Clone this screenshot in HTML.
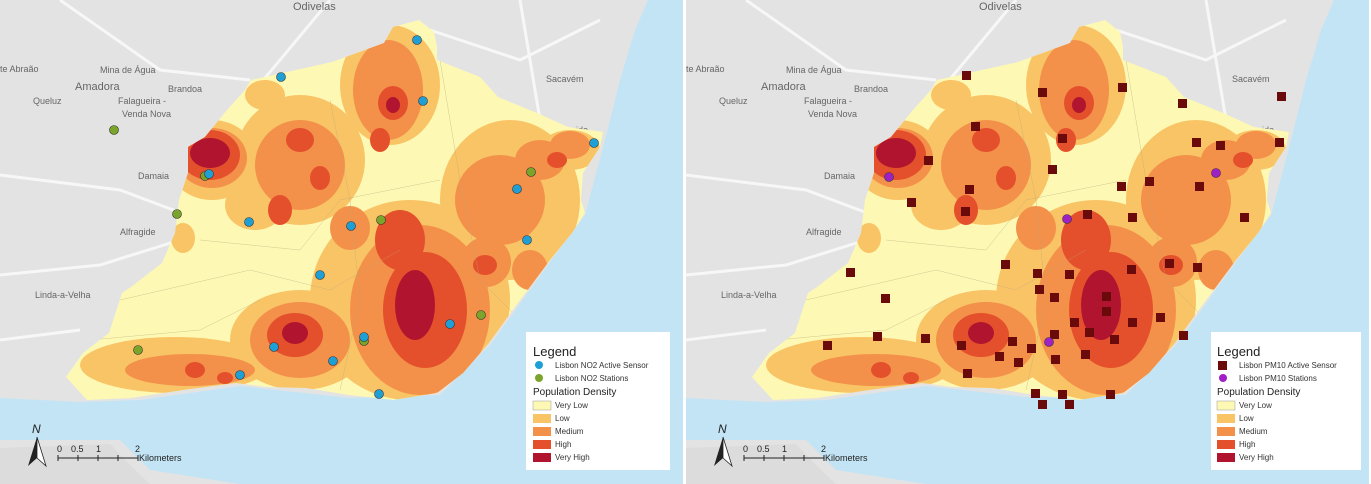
<!DOCTYPE html>
<html><head><meta charset="utf-8"><style>
html,body{margin:0;padding:0;background:#fff}
svg{display:block}
text{font-family:"Liberation Sans",sans-serif}
</style></head><body>
<svg width="1371" height="484" viewBox="0 0 1371 484" xmlns="http://www.w3.org/2000/svg">
<defs>
<clipPath id="pc"><rect x="0" y="0" width="683" height="484"/></clipPath>
<clipPath id="cityclip"><polygon points="251,80 332,62 384,43 393,27 419,20 434,32 437,47 437,60 480,77 498,97 537,113 568,127 603,132 600,147 583,173 581,200 585,213 572,233 550,260 533,283 515,307 489,343 463,373 437,393 393,400 349,395 306,388 266,387 236,383 183,390 131,398 87,400 66,377 83,353 109,333 122,293 131,287 162,263 175,233 179,200 188,173 188,147 205,137 227,110 245,90"/></clipPath>
<g id="base" clip-path="url(#pc)">
  <rect x="0" y="0" width="683" height="484" fill="#e3e3e3"/>
  <g stroke="#f7f7f7" stroke-width="3" fill="none">
    <path d="M0,175 L120,190 L200,220"/>
    <path d="M60,0 L160,70 L250,80"/>
    <path d="M0,275 L100,265 L180,240"/>
    <path d="M430,30 L520,60 L600,20"/>
    <path d="M520,0 L540,120"/>
    <path d="M0,340 L80,330"/>
    <path d="M230,120 L330,0"/>
  </g>
  <g fill="#666" font-size="9">
    <text x="0" y="72">te Abraão</text><text x="100" y="73">Mina de Água</text>
    <text x="75" y="90" font-size="11">Amadora</text><text x="168" y="92">Brandoa</text>
    <text x="33" y="104">Queluz</text><text x="118" y="104">Falagueira -</text><text x="122" y="117">Venda Nova</text>
    <text x="138" y="179">Damaia</text><text x="120" y="235">Alfragide</text><text x="35" y="298">Linda-a-Velha</text>
    <text x="293" y="10" font-size="11">Odivelas</text><text x="546" y="82">Sacavém</text><text x="545" y="133">Moscavide</text>
    <text x="0" y="477">rafaria</text>
  </g>
  <path d="M648,0 L683,0 L683,484 L240,484 L150,470 L120,440 L0,440 L0,398 L80,402 L140,400 L240,386 L350,398 L440,395 L490,345 L550,262 L585,215 L605,140 L620,80 L635,30 Z" fill="#c3e4f5"/>
  <path d="M0,448 L110,444 L135,470 L150,484 L0,484 Z" fill="#dcdcdc"/>
  <polygon fill="#fdf9b4" points="251,80 332,62 384,43 393,27 419,20 434,32 437,47 437,60 480,77 498,97 537,113 568,127 603,132 600,147 583,173 581,200 585,213 572,233 550,260 533,283 515,307 489,343 463,373 437,393 393,400 349,395 306,388 266,387 236,383 183,390 131,398 87,400 66,377 83,353 109,333 122,293 131,287 162,263 175,233 179,200 188,173 188,147 205,137 227,110 245,90"/>
  <g clip-path="url(#cityclip)">
  <g fill="#f9c466">
    <ellipse cx="410" cy="300" rx="100" ry="100"/>
    <ellipse cx="300" cy="340" rx="70" ry="50"/>
    <ellipse cx="175" cy="365" rx="95" ry="28"/>
    <ellipse cx="510" cy="200" rx="70" ry="80"/>
    <ellipse cx="300" cy="160" rx="65" ry="65"/>
    <ellipse cx="390" cy="85" rx="50" ry="60"/>
    <ellipse cx="212" cy="160" rx="45" ry="40"/>
    <ellipse cx="265" cy="95" rx="20" ry="15"/>
    <ellipse cx="570" cy="150" rx="30" ry="20"/>
    <ellipse cx="183" cy="238" rx="12" ry="15"/>
    <ellipse cx="255" cy="205" rx="30" ry="25"/>
  </g>
  <g fill="#f3914a">
    <ellipse cx="420" cy="310" rx="70" ry="85"/>
    <ellipse cx="300" cy="340" rx="50" ry="38"/>
    <ellipse cx="190" cy="370" rx="65" ry="16"/>
    <ellipse cx="500" cy="200" rx="45" ry="45"/>
    <ellipse cx="540" cy="160" rx="25" ry="20"/>
    <ellipse cx="300" cy="165" rx="45" ry="45"/>
    <ellipse cx="388" cy="90" rx="35" ry="50"/>
    <ellipse cx="212" cy="158" rx="35" ry="30"/>
    <ellipse cx="486" cy="262" rx="25" ry="25"/>
    <ellipse cx="350" cy="228" rx="20" ry="22"/>
    <ellipse cx="570" cy="145" rx="20" ry="14"/>
    <ellipse cx="530" cy="270" rx="18" ry="20"/>
  </g>
  <g fill="#e5502c">
    <ellipse cx="425" cy="310" rx="42" ry="58"/>
    <ellipse cx="400" cy="240" rx="25" ry="30"/>
    <ellipse cx="295" cy="335" rx="28" ry="22"/>
    <ellipse cx="210" cy="155" rx="30" ry="25"/>
    <ellipse cx="393" cy="103" rx="15" ry="17"/>
    <ellipse cx="380" cy="140" rx="10" ry="12"/>
    <ellipse cx="300" cy="140" rx="14" ry="12"/>
    <ellipse cx="320" cy="178" rx="10" ry="12"/>
    <ellipse cx="280" cy="210" rx="12" ry="15"/>
    <ellipse cx="485" cy="265" rx="12" ry="10"/>
    <ellipse cx="557" cy="160" rx="10" ry="8"/>
    <ellipse cx="195" cy="370" rx="10" ry="8"/>
    <ellipse cx="225" cy="378" rx="8" ry="6"/>
  </g>
  <g fill="#b1142e">
    <ellipse cx="415" cy="305" rx="20" ry="35"/>
    <ellipse cx="210" cy="153" rx="20" ry="15"/>
    <ellipse cx="295" cy="333" rx="13" ry="11"/>
    <ellipse cx="393" cy="105" rx="7" ry="8"/>
  </g>
  <g stroke="#b9a77a" stroke-width="0.5" fill="none" opacity="0.6">
    <path d="M120,300 L250,270 L330,290 L400,250"/>
    <path d="M200,240 L300,250 L340,200 L440,180"/>
    <path d="M330,100 L350,200 L360,300 L340,390"/>
    <path d="M440,60 L460,180 L480,280 L520,320"/>
    <path d="M90,340 L200,330 L260,300"/>
  </g>
  </g>
  <g fill="#222" font-size="9">
    <text x="57" y="452">0</text><text x="71" y="452">0.5</text><text x="96" y="452">1</text><text x="135" y="452">2</text>
    <path d="M58,458 L138,458 M58,455 L58,461 M78,455 L78,461 M98,455 L98,461 M118,455 L118,461 M138,455 L138,461" stroke="#222" stroke-width="1"/>
    <text x="139" y="461">Kilometers</text>
    <text x="32" y="433" font-size="12" font-style="italic">N</text>
    <path d="M37,437 L28,466 L37,458 Z" fill="#222"/><path d="M37,437 L46,466 L37,458 Z" fill="#fff" stroke="#222" stroke-width="0.8"/>
  </g>
</g>
</defs>

<use href="#base"/>
<use href="#base" transform="translate(686,0)"/>
<rect x="683" y="0" width="3" height="484" fill="#fff"/>

<g fill="#7aa52a" stroke="#333" stroke-width="0.6">
  <circle cx="114" cy="130" r="4.5"/><circle cx="205" cy="176" r="4.5"/><circle cx="177" cy="214" r="4.5"/>
  <circle cx="381" cy="220" r="4.5"/><circle cx="531" cy="172" r="4.5"/><circle cx="481" cy="315" r="4.5"/>
  <circle cx="364" cy="341" r="4.5"/><circle cx="138" cy="350" r="4.5"/>
</g>
<g fill="#1ea0d6" stroke="#333" stroke-width="0.6">
  <circle cx="417" cy="40" r="4.5"/><circle cx="281" cy="77" r="4.5"/><circle cx="423" cy="101" r="4.5"/>
  <circle cx="594" cy="143" r="4.5"/><circle cx="209" cy="174" r="4.5"/><circle cx="517" cy="189" r="4.5"/>
  <circle cx="249" cy="222" r="4.5"/><circle cx="351" cy="226" r="4.5"/><circle cx="527" cy="240" r="4.5"/>
  <circle cx="320" cy="275" r="4.5"/><circle cx="450" cy="324" r="4.5"/><circle cx="364" cy="337" r="4.5"/>
  <circle cx="274" cy="347" r="4.5"/><circle cx="333" cy="361" r="4.5"/><circle cx="240" cy="375" r="4.5"/>
  <circle cx="379" cy="394" r="4.5"/>
</g>

<g fill="#6a0a0a">
  <rect x="962" y="71" width="9" height="9"/><rect x="1038" y="88" width="9" height="9"/><rect x="1118" y="83" width="9" height="9"/>
  <rect x="1178" y="99" width="9" height="9"/><rect x="1277" y="92" width="9" height="9"/><rect x="971" y="122" width="9" height="9"/>
  <rect x="1058" y="134" width="9" height="9"/><rect x="1192" y="138" width="9" height="9"/><rect x="1216" y="141" width="9" height="9"/>
  <rect x="1275" y="138" width="9" height="9"/><rect x="924" y="156" width="9" height="9"/><rect x="1048" y="165" width="9" height="9"/>
  <rect x="965" y="185" width="9" height="9"/><rect x="1117" y="182" width="9" height="9"/><rect x="1145" y="177" width="9" height="9"/>
  <rect x="1195" y="182" width="9" height="9"/><rect x="1083" y="210" width="9" height="9"/><rect x="907" y="198" width="9" height="9"/>
  <rect x="961" y="207" width="9" height="9"/><rect x="1128" y="213" width="9" height="9"/><rect x="1240" y="213" width="9" height="9"/>
  <rect x="846" y="268" width="9" height="9"/><rect x="1165" y="259" width="9" height="9"/><rect x="1193" y="263" width="9" height="9"/>
  <rect x="1001" y="260" width="9" height="9"/><rect x="1033" y="269" width="9" height="9"/><rect x="1065" y="270" width="9" height="9"/>
  <rect x="1127" y="265" width="9" height="9"/><rect x="1035" y="285" width="9" height="9"/><rect x="1050" y="293" width="9" height="9"/>
  <rect x="1102" y="292" width="9" height="9"/><rect x="881" y="294" width="9" height="9"/><rect x="1102" y="307" width="9" height="9"/>
  <rect x="1128" y="318" width="9" height="9"/><rect x="1156" y="313" width="9" height="9"/><rect x="1179" y="331" width="9" height="9"/>
  <rect x="1070" y="318" width="9" height="9"/><rect x="1085" y="328" width="9" height="9"/><rect x="1110" y="335" width="9" height="9"/>
  <rect x="873" y="332" width="9" height="9"/><rect x="921" y="334" width="9" height="9"/><rect x="957" y="341" width="9" height="9"/>
  <rect x="1027" y="344" width="9" height="9"/><rect x="995" y="352" width="9" height="9"/><rect x="1014" y="358" width="9" height="9"/>
  <rect x="1050" y="330" width="9" height="9"/><rect x="1081" y="350" width="9" height="9"/><rect x="1008" y="337" width="9" height="9"/>
  <rect x="823" y="341" width="9" height="9"/><rect x="1051" y="355" width="9" height="9"/><rect x="963" y="369" width="9" height="9"/>
  <rect x="1031" y="389" width="9" height="9"/><rect x="1058" y="390" width="9" height="9"/><rect x="1038" y="400" width="9" height="9"/>
  <rect x="1065" y="400" width="9" height="9"/><rect x="1106" y="390" width="9" height="9"/>
</g>
<g fill="#a020c8" stroke="#333" stroke-width="0.6">
  <circle cx="889" cy="177" r="4.5"/><circle cx="1067" cy="219" r="4.5"/><circle cx="1216" cy="173" r="4.5"/><circle cx="1049" cy="342" r="4.5"/>
</g>

<g font-size="8" fill="#333">
  <rect x="526" y="332" width="144" height="138" fill="#fff"/>
  <text x="533" y="356" font-size="13" fill="#222">Legend</text>
  <circle cx="539" cy="365" r="4" fill="#1ea0d6"/><text x="555" y="368">Lisbon NO2 Active Sensor</text>
  <circle cx="539" cy="378" r="4" fill="#7aa52a"/><text x="555" y="381">Lisbon NO2 Stations</text>
  <text x="533" y="395" font-size="10" fill="#222">Population Density</text>
  <rect x="533" y="401" width="18" height="9" fill="#fdf9b4" stroke="#999" stroke-width="0.5"/><text x="555" y="408">Very Low</text>
  <rect x="533" y="414" width="18" height="9" fill="#f9c466"/><text x="555" y="421">Low</text>
  <rect x="533" y="427" width="18" height="9" fill="#f3914a"/><text x="555" y="434">Medium</text>
  <rect x="533" y="440" width="18" height="9" fill="#e5502c"/><text x="555" y="447">High</text>
  <rect x="533" y="453" width="18" height="9" fill="#b1142e"/><text x="555" y="460">Very High</text>

  <rect x="1211" y="332" width="150" height="138" fill="#fff"/>
  <text x="1217" y="356" font-size="13" fill="#222">Legend</text>
  <rect x="1218" y="361" width="9" height="9" fill="#6a0a0a"/><text x="1239" y="368">Lisbon PM10 Active Sensor</text>
  <circle cx="1223" cy="378" r="4" fill="#a020c8"/><text x="1239" y="381">Lisbon PM10 Stations</text>
  <text x="1217" y="395" font-size="10" fill="#222">Population Density</text>
  <rect x="1217" y="401" width="18" height="9" fill="#fdf9b4" stroke="#999" stroke-width="0.5"/><text x="1239" y="408">Very Low</text>
  <rect x="1217" y="414" width="18" height="9" fill="#f9c466"/><text x="1239" y="421">Low</text>
  <rect x="1217" y="427" width="18" height="9" fill="#f3914a"/><text x="1239" y="434">Medium</text>
  <rect x="1217" y="440" width="18" height="9" fill="#e5502c"/><text x="1239" y="447">High</text>
  <rect x="1217" y="453" width="18" height="9" fill="#b1142e"/><text x="1239" y="460">Very High</text>
</g>
</svg>
</body></html>
